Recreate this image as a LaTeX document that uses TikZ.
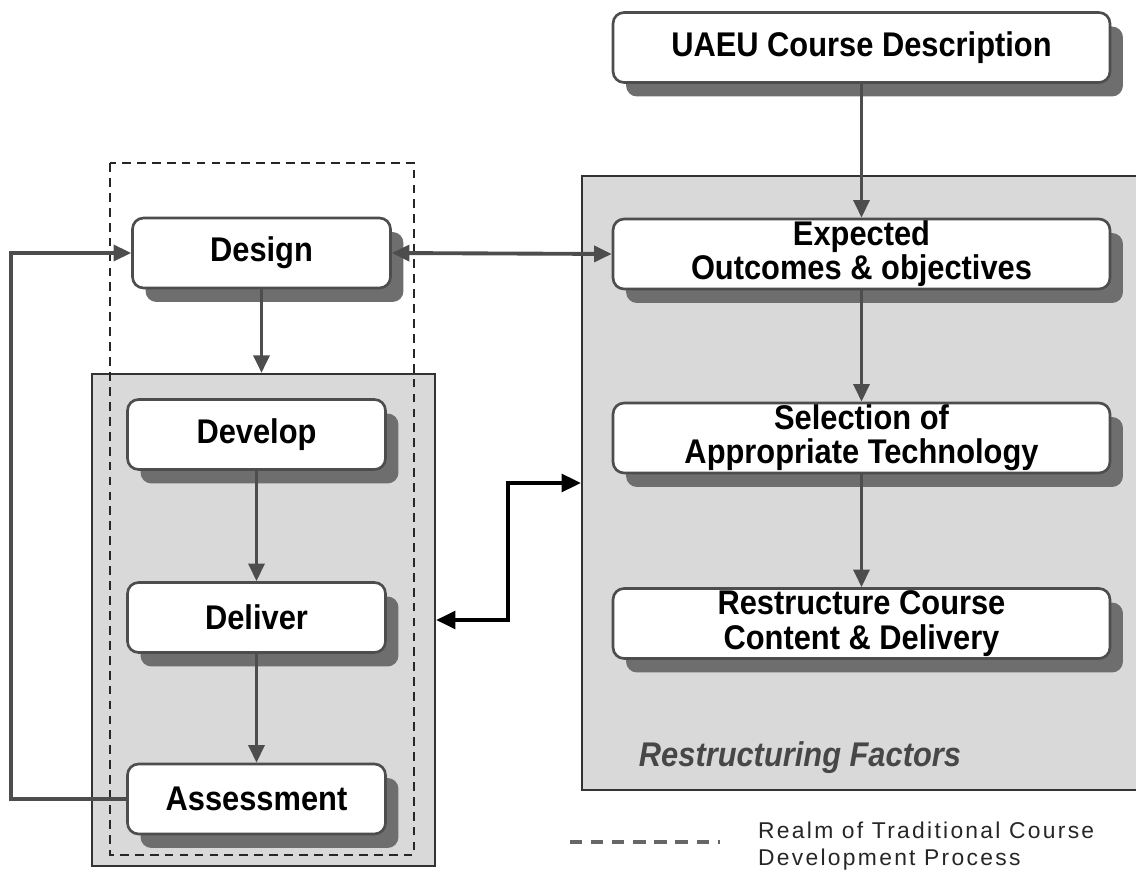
\documentclass[tikz,border=0pt]{standalone}
\usepackage{fontspec}
\setmainfont{Liberation Sans}
\newfontfamily\lblfont{Liberation Sans}[FakeStretch=0.9]
\newfontfamily\legfont{Liberation Sans}[LetterSpace=10]
\usetikzlibrary{shadows,arrows.meta}
\definecolor{panelgray}{HTML}{D9D9D9}
\definecolor{linegray}{HTML}{4D4D4D}
\definecolor{shadowgray}{HTML}{6E6E6E}
\begin{document}
\begin{tikzpicture}[x=0.02cm,y=-0.02cm,
  box/.style={draw=linegray, line width=1.5pt, fill=white, rounded corners=0.22cm,
    minimum height=1.4cm, align=center, inner sep=0pt,
    font=\lblfont\bfseries\fontsize{19.5}{19.5}\selectfont,
    drop shadow={shadow xshift=0.26cm, shadow yshift=-0.28cm, fill=shadowgray, opacity=1}},
  rbox/.style={box, minimum width=9.94cm},
  lbox/.style={box, minimum width=5.16cm},
  panel/.style={draw=black!80, line width=1.3pt, fill=panelgray, inner sep=0pt},
  realmline/.style={draw=black!85, line width=1.1pt, dash pattern=on 5pt off 3.5pt},
  conn/.style={draw=linegray, line width=2.2pt, -{Triangle[length=10pt,width=9pt]}},
  dconn/.style={conn, {Triangle[length=10pt,width=9pt]}-{Triangle[length=10pt,width=9pt]}},
  blk/.style={draw=black, line width=2.4pt, {Triangle[length=11pt,width=10pt]}-{Triangle[length=11pt,width=10pt]}},
  legline/.style={draw=black!60, line width=2pt, dash pattern=on 7pt off 5pt}
]
\useasboundingbox (0,0) rectangle (1136,874);

% panels
\node[panel, minimum width=11.2cm, minimum height=12.28cm] (rp) at (862,483) {};
\node[panel, minimum width=6.86cm, minimum height=9.84cm] (lp) at (263.5,620) {};

% realm of traditional process
\draw[realmline] (110,163) rectangle (414,855);

% right column
\node[rbox] (uaeu) at (861.5,47.5) {UAEU Course Description};
\node[rbox] (exp) at (861.5,254) {Expected\\Outcomes \& objectives};
\node[rbox] (sel) at (861.5,438) {Selection of\\Appropriate Technology};
\node[rbox] (res) at (861.5,623.5) {Restructure Course\\Content \& Delivery};
\node[font=\lblfont\bfseries\itshape\fontsize{19.5}{20}\selectfont, text=black!72] (rf) at (800,758) {Restructuring Factors};

% left column
\node[lbox] (des) at (261.5,253) {Design};
\node[lbox] (dev) at (256.5,434.5) {Develop};
\node[lbox] (del) at (256.5,617.5) {Deliver};
\node[lbox] (ass) at (256.5,799) {Assessment};

% connectors
\draw[conn] (uaeu.south) -- (exp.north);
\draw[conn] (exp.south) -- (sel.north);
\draw[conn] (sel.south) -- (res.north);
\draw[conn] (des.south) -- (des.south |- lp.north);
\draw[conn] (dev.south) -- (del.north);
\draw[conn] (del.south) -- (ass.north);
\draw[dconn] (des.east) -- (exp.west);
\draw[conn] (ass.west) -- ++(-115,0) |- (des.west);
\draw[blk] (lp.east) -- ++(72,0) |- (rp.west);

% legend
\coordinate (lg1) at (570,842);
\coordinate (lg2) at (720,842);
\draw[legline] (lg1) -- (lg2);
\node[anchor=west, align=left, font=\legfont\fontsize{13}{15.5}\selectfont, text=black!85] (legtext) at (752,846) {Realm of Traditional Course\\Development Process};
\end{tikzpicture}
\end{document}
